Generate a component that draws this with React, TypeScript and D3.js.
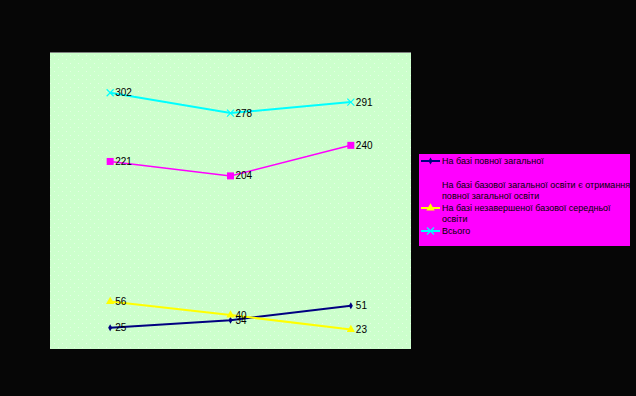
import React from "react";
import * as d3 from "d3";

const categories = ["A", "B", "C"];
const seriesNames = [
  "На базі повної загальної",
  "На базі базової загальної освіти є отримання повної загальної освіти",
  "На базі незавершеної базової середньої освіти",
  "Всього",
];
const seriesFull = [25, 34, 51];
const seriesBasic = [221, 204, 240];
const seriesIncomplete = [56, 40, 23];
const seriesTotal = [302, 278, 291];
const legendLines = [
  ["На базі повної загальної"],
  ["На базі базової загальної освіти є отримання", "повної загальної освіти"],
  ["На базі незавершеної базової середньої", "освіти"],
  ["Всього"],
];

const W = 636;
const H = 396;
const plot = { left: 50, top: 52, right: 411, bottom: 349 };

type S = { name: string; values: number[]; color: string; marker: string; width: number };
const series: S[] = [
  { name: seriesNames[0], values: seriesFull, color: "#000080", marker: "diamond", width: 2 },
  { name: seriesNames[1], values: seriesBasic, color: "#FF00FF", marker: "square", width: 1.5 },
  { name: seriesNames[2], values: seriesIncomplete, color: "#FFFF00", marker: "triangle", width: 2 },
  { name: seriesNames[3], values: seriesTotal, color: "#00FFFF", marker: "x", width: 2 },
];

function Marker({ kind, x, y, color }: { kind: string; x: number; y: number; color: string }) {
  if (kind === "diamond") {
    const s = d3.symbol(d3.symbolDiamond, 14)();
    return <path d={s || ""} transform={`translate(${x},${y})`} fill={color} />;
  }
  if (kind === "square") {
    return <rect x={x - 3.5} y={y - 3.5} width={7} height={7} fill={color} />;
  }
  if (kind === "triangle") {
    const s = d3.symbol(d3.symbolTriangle, 30)();
    return <path d={s || ""} transform={`translate(${x},${y})`} fill={color} />;
  }
  return (
    <g stroke={color} strokeWidth={1.2}>
      <line x1={x - 3.5} y1={y - 3.5} x2={x + 3.5} y2={y + 3.5} />
      <line x1={x - 3.5} y1={y + 3.5} x2={x + 3.5} y2={y - 3.5} />
    </g>
  );
}

export default function App() {
  const x = d3.scalePoint<string>().domain(categories).range([plot.left, plot.right]).padding(0.5);
  const y = d3.scaleLinear().domain([0, 350]).range([plot.bottom, plot.top]);
  const line = d3
    .line<number>()
    .x((_, i) => x(categories[i]) as number)
    .y((d) => y(d));

  const legend = { x: 419, y: 154, w: 211, h: 92 };
  const entryY = [161, 185, 208, 231];

  return (
    <div style={{ position: "fixed", left: 0, top: 0 }}>
      <svg width={W} height={H} style={{ display: "block" }} fontFamily="Liberation Sans, Arial, sans-serif">
        <defs>
          <pattern id="dots" width="8" height="8" patternUnits="userSpaceOnUse">
            <rect width="8" height="8" fill="#CCFFCC" />
            <rect x="2" y="3" width="1" height="1" fill="#E4FFE4" />
            <rect x="6" y="7" width="1" height="1" fill="#E4FFE4" />
          </pattern>
        </defs>
        <rect width={W} height={H} fill="#060606" />
        <rect
          x={plot.left}
          y={plot.top}
          width={plot.right - plot.left}
          height={plot.bottom - plot.top}
          fill="url(#dots)"
        />
        <line x1={plot.left} x2={plot.right} y1={plot.top + 0.5} y2={plot.top + 0.5} stroke="#808080" />
        {series.map((s) => (
          <g key={s.name}>
            <path d={line(s.values) || ""} fill="none" stroke={s.color} strokeWidth={s.width} />
            {s.values.map((v, i) => (
              <Marker key={i} kind={s.marker} x={x(categories[i]) as number} y={y(v)} color={s.color} />
            ))}
          </g>
        ))}
        {series.map((s) =>
          s.values.map((v, i) => (
            <text
              key={s.name + i}
              x={(x(categories[i]) as number) + 5}
              y={y(v)}
              dy="0.35em"
              fontSize={10}
              fill="#000"
            >
              {v}
            </text>
          ))
        )}
        <rect x={legend.x} y={legend.y} width={legend.w} height={legend.h} fill="#FF00FF" />
        {series.map((s, k) => (
          <g key={s.name}>
            <line x1={421} x2={440} y1={entryY[k]} y2={entryY[k]} stroke={s.color} strokeWidth={2} />
            <Marker kind={s.marker} x={430.5} y={entryY[k]} color={s.color} />
            {legendLines[k].map((t, j) => (
              <text key={j} x={442} y={entryY[k] + j * 10.5} dy="0.35em" fontSize={9} fill="#000">
                {t}
              </text>
            ))}
          </g>
        ))}
      </svg>
    </div>
  );
}
